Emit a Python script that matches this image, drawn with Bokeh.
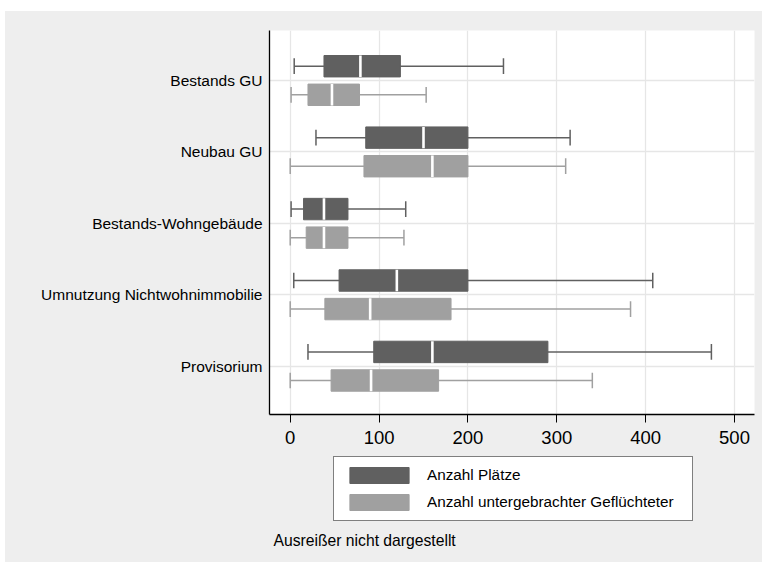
from bokeh.plotting import figure
from bokeh.layouts import column
from bokeh.models import Range1d, FixedTicker, Legend, LegendItem, Label, ColumnDataSource
from bokeh.embed import file_html
from bokeh.resources import INLINE

categories = ["Bestands GU", "Neubau GU", "Bestands-Wohngebäude",
              "Umnutzung Nichtwohnimmobilie", "Provisorium"]

plaetze_low = [4.5, 29, 1, 4, 20]
plaetze_q1 = [38, 85, 15, 55, 94]
plaetze_med = [79, 150, 38, 120, 160]
plaetze_q3 = [124, 200, 65, 200, 290]
plaetze_high = [240, 315, 130, 408, 474]

gefl_low = [1, 0, 0, 0, 0]
gefl_q1 = [20, 83, 18, 39, 46]
gefl_med = [47, 160, 38, 90, 91]
gefl_q3 = [78, 200, 65, 181, 167]
gefl_high = [153, 310, 128, 383, 340]

x_ticks = [0, 100, 200, 300, 400, 500]
series_labels = ["Anzahl Plätze", "Anzahl untergebrachter Geflüchteter"]
note_text = "Ausreißer nicht dargestellt"

FONT = "Liberation Sans"
DARK = "#606060"
LIGHT = "#a0a0a0"
BG = "#eeeeee"

n = len(categories)
group_pos = [n - i for i in range(n)]

p = figure(frame_width=485, frame_height=384,
           min_border_left=264, min_border_right=8,
           min_border_top=19, min_border_bottom=40,
           x_range=Range1d(-23.3, 522.5), y_range=Range1d(0.324, 5.70),
           output_backend="svg", toolbar_location=None,
           background_fill_color="white", border_fill_color=BG)
p.outline_line_color = None

# grids
p.xgrid.ticker = FixedTicker(ticks=x_ticks)
p.ygrid.ticker = FixedTicker(ticks=group_pos)
for g in (p.xgrid, p.ygrid):
    g.grid_line_color = "#e6e6e6"
    g.grid_line_width = 1.3

# x axis
p.xaxis.ticker = FixedTicker(ticks=x_ticks, minor_ticks=[])
p.xaxis.axis_line_color = "black"
p.xaxis.axis_line_width = 1.3
p.xaxis.major_tick_line_color = "black"
p.xaxis.major_tick_out = 8
p.xaxis.major_tick_in = 0
p.xaxis.minor_tick_line_color = None
p.xaxis.major_label_standoff = 8
p.xaxis.major_label_text_font = FONT
p.xaxis.major_label_text_font_size = "18.5px"
p.xaxis.major_label_text_color = "black"

# y axis
p.yaxis.ticker = FixedTicker(ticks=group_pos, minor_ticks=[])
p.yaxis.major_label_overrides = {pos: cat for pos, cat in zip(group_pos, categories)}
p.yaxis.axis_line_color = "black"
p.yaxis.axis_line_width = 1.3
p.yaxis.major_tick_out = 0
p.yaxis.major_tick_in = 0
p.yaxis.major_tick_line_color = None
p.yaxis.minor_tick_line_color = None
p.yaxis.major_label_standoff = 7
p.yaxis.major_label_text_font = FONT
p.yaxis.major_label_text_font_size = "15.5px"
p.yaxis.major_label_text_color = "black"


def make_source(low, q1, med, q3, high, offset):
    ys = [g + offset for g in group_pos]
    return ColumnDataSource(dict(y=ys, low=low, q1=q1, med=med, q3=q3, high=high,
                                 ylo=[y - 0.11 for y in ys], yhi=[y + 0.11 for y in ys],
                                 mlo=[y - 0.15 for y in ys], mhi=[y + 0.15 for y in ys]))


def draw_series(src, color, whisker_width):
    p.segment(x0="low", x1="high", y0="y", y1="y", source=src,
              line_color=color, line_width=whisker_width)
    p.segment(x0="low", x1="low", y0="ylo", y1="yhi", source=src,
              line_color=color, line_width=whisker_width)
    p.segment(x0="high", x1="high", y0="ylo", y1="yhi", source=src,
              line_color=color, line_width=whisker_width)
    p.hbar(y="y", left="q1", right="q3", height=0.30, source=src,
           fill_color=color, line_color=color, line_width=1)
    p.segment(x0="med", x1="med", y0="mlo", y1="mhi", source=src,
              line_color="white", line_width=2.6)


src1 = make_source(plaetze_low, plaetze_q1, plaetze_med, plaetze_q3, plaetze_high, 0.2)
src2 = make_source(gefl_low, gefl_q1, gefl_med, gefl_q3, gefl_high, -0.2)
draw_series(src1, DARK, 1.5)
draw_series(src2, LIGHT, 1.5)

# ---- lower panel: legend + note ----
p2 = figure(frame_width=757, frame_height=108,
            min_border_left=0, min_border_right=0, min_border_top=0, min_border_bottom=0,
            x_range=Range1d(0, 757), y_range=Range1d(0, 108),
            x_axis_type=None, y_axis_type=None,
            output_backend="svg", toolbar_location=None,
            background_fill_color=None, border_fill_color=BG)
p2.outline_line_color = None
p2.grid.visible = False

l1 = p2.hbar(y="y", left="q1", right="q3", height=0.30, source=src1,
             fill_color=DARK, line_color=DARK, visible=False)
l2 = p2.hbar(y="y", left="q1", right="q3", height=0.30, source=src2,
             fill_color=LIGHT, line_color=LIGHT, visible=False)

legend = Legend(items=[LegendItem(label=series_labels[0], renderers=[l1]),
                       LegendItem(label=series_labels[1], renderers=[l2])],
                location=(328, 41), orientation="vertical",
                padding=8, spacing=7, margin=0,
                glyph_width=74, glyph_height=20, label_standoff=11,
                label_width=257, label_height=20,
                label_text_font=FONT, label_text_font_size="15.3px",
                label_text_color="black",
                border_line_color="black", border_line_width=1,
                background_fill_color="white", background_fill_alpha=1.0,
                inactive_fill_alpha=0.0)
p2.add_layout(legend, "center")

note = Label(x=4, y=22, x_units="screen", y_units="screen", text=note_text,
             text_font=FONT, text_font_size="15.7px", text_color="black",
             text_baseline="middle", text_align="left")
p2.add_layout(note)

layout = column(p, p2, spacing=0, margin=(11, 0, 0, 5),
                styles={"background-color": BG})
open("out.html", "w").write(file_html(layout, INLINE))
